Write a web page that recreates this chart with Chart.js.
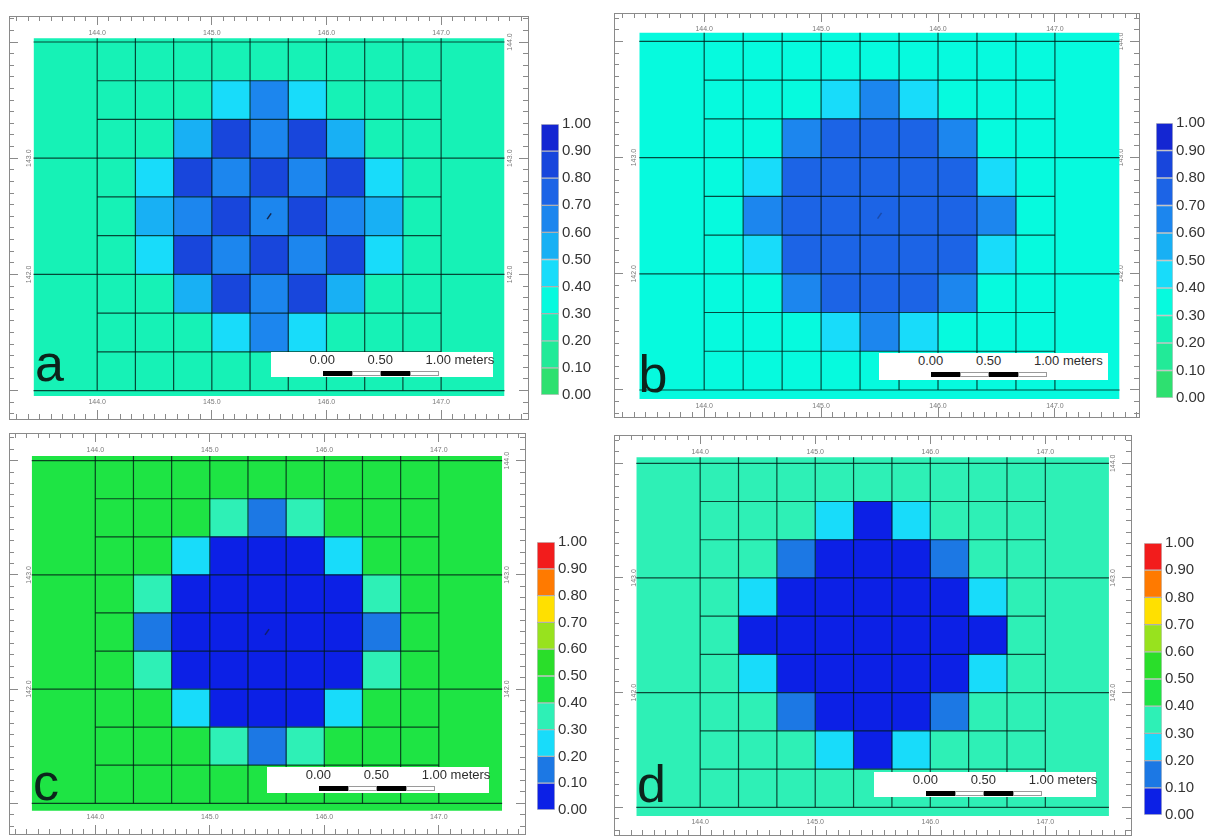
<!DOCTYPE html>
<html>
<head>
<meta charset="utf-8">
<script src="https://cdn.jsdelivr.net/npm/chart.js@4.4.1/dist/chart.umd.min.js"></script>
<style>
  html, body { margin: 0; padding: 0; background: #ffffff; }
  body { position: relative; width: 1210px; height: 838px; overflow: hidden; font-family: "Liberation Sans", Arial, sans-serif; }
  canvas.plot { position: absolute; }
  .scalebox { position: absolute; background: #ffffff; z-index: 3; }
  .scalebox span { position: absolute; top: 1px; font-size: 13px; line-height: 13px; color: #2e2e2e; white-space: nowrap; }
  .seg { position: absolute; top: 19px; height: 5px; width: 29px; box-sizing: border-box; }
  .seg.dark { background: #000000; }
  .seg.light { background: #ffffff; border: 1px solid #9a9a9a; }
  .letter { position: absolute; font-size: 52px; line-height: 52px; color: #0c241c; z-index: 3; }
</style>
</head>
<body>
<script>
Chart.defaults.font.family = "'Liberation Sans', Arial, sans-serif";

// ---- legend classes -------------------------------------------------------
const classEdges  = [0.0, 0.1, 0.2, 0.3, 0.4, 0.5, 0.6, 0.7, 0.8, 0.9, 1.0];
const classLabels = ['0.00', '0.10', '0.20', '0.30', '0.40', '0.50', '0.60', '0.70', '0.80', '0.90', '1.00'];

// colour per class, lowest class first
const rampCool = ['#2ee070', '#22ea98', '#16f2b6', '#06fade', '#18dcfa',
                  '#18b0f4', '#1c86ee', '#1c64e6', '#1846dc', '#1426d2'];
const rampSpectral = ['#0c20e6', '#1c78e4', '#18dcfa', '#2ef0b6', '#1ee444',
                      '#2ade2a', '#98e21e', '#ffe000', '#ff7a00', '#f21c1c'];

// ---- grid geometry (map units, metres) --------------------------------------
const colEdges = [144.0, 144.3333, 144.6667, 145.0, 145.3333, 145.6667, 146.0, 146.3333, 146.6667, 147.0];
const rowEdges = [144.0, 143.6667, 143.3333, 143.0, 142.6667, 142.3333, 142.0, 141.6667, 141.3333, 141.0];
const eastingLabels      = [144.0, 145.0, 146.0, 147.0];
const northingMajor      = [141.0, 142.0, 143.0, 144.0];
const northingLabelsWest = [142.0, 143.0];
const northingLabelsEast = [142.0, 143.0, 144.0];
const wellhead = [{ x: 145.5, y: 142.5 }];

// ---- cell values, north row first ---------------------------------------------
const fillA = 0.25;
const gridA = [
  [0.25, 0.25, 0.25, 0.25, 0.25, 0.25, 0.25, 0.25, 0.25],
  [0.25, 0.25, 0.25, 0.45, 0.65, 0.45, 0.25, 0.25, 0.25],
  [0.25, 0.25, 0.55, 0.85, 0.65, 0.85, 0.55, 0.25, 0.25],
  [0.25, 0.45, 0.85, 0.65, 0.85, 0.65, 0.85, 0.45, 0.25],
  [0.25, 0.55, 0.65, 0.85, 0.65, 0.85, 0.65, 0.55, 0.25],
  [0.25, 0.45, 0.85, 0.65, 0.85, 0.65, 0.85, 0.45, 0.25],
  [0.25, 0.25, 0.55, 0.85, 0.65, 0.85, 0.55, 0.25, 0.25],
  [0.25, 0.25, 0.25, 0.45, 0.65, 0.45, 0.25, 0.25, 0.25],
  [0.25, 0.25, 0.25, 0.25, 0.25, 0.25, 0.25, 0.25, 0.25]
];
const fillB = 0.35;
const gridB = [
  [0.35, 0.35, 0.35, 0.35, 0.35, 0.35, 0.35, 0.35, 0.35],
  [0.35, 0.35, 0.35, 0.45, 0.65, 0.45, 0.35, 0.35, 0.35],
  [0.35, 0.35, 0.65, 0.75, 0.75, 0.75, 0.65, 0.35, 0.35],
  [0.35, 0.45, 0.75, 0.75, 0.75, 0.75, 0.75, 0.45, 0.35],
  [0.35, 0.65, 0.75, 0.75, 0.75, 0.75, 0.75, 0.65, 0.35],
  [0.35, 0.45, 0.75, 0.75, 0.75, 0.75, 0.75, 0.45, 0.35],
  [0.35, 0.35, 0.65, 0.75, 0.75, 0.75, 0.65, 0.35, 0.35],
  [0.35, 0.35, 0.35, 0.45, 0.65, 0.45, 0.35, 0.35, 0.35],
  [0.35, 0.35, 0.35, 0.35, 0.35, 0.35, 0.35, 0.35, 0.35]
];
const fillC = 0.45;
const gridC = [
  [0.45, 0.45, 0.45, 0.45, 0.45, 0.45, 0.45, 0.45, 0.45],
  [0.45, 0.45, 0.45, 0.35, 0.15, 0.35, 0.45, 0.45, 0.45],
  [0.45, 0.45, 0.25, 0.05, 0.05, 0.05, 0.25, 0.45, 0.45],
  [0.45, 0.35, 0.05, 0.05, 0.05, 0.05, 0.05, 0.35, 0.45],
  [0.45, 0.15, 0.05, 0.05, 0.05, 0.05, 0.05, 0.15, 0.45],
  [0.45, 0.35, 0.05, 0.05, 0.05, 0.05, 0.05, 0.35, 0.45],
  [0.45, 0.45, 0.25, 0.05, 0.05, 0.05, 0.25, 0.45, 0.45],
  [0.45, 0.45, 0.45, 0.35, 0.15, 0.35, 0.45, 0.45, 0.45],
  [0.45, 0.45, 0.45, 0.45, 0.45, 0.45, 0.45, 0.45, 0.45]
];
const fillD = 0.35;
const gridD = [
  [0.35, 0.35, 0.35, 0.35, 0.35, 0.35, 0.35, 0.35, 0.35],
  [0.35, 0.35, 0.35, 0.25, 0.05, 0.25, 0.35, 0.35, 0.35],
  [0.35, 0.35, 0.15, 0.05, 0.05, 0.05, 0.15, 0.35, 0.35],
  [0.35, 0.25, 0.05, 0.05, 0.05, 0.05, 0.05, 0.25, 0.35],
  [0.35, 0.05, 0.05, 0.05, 0.05, 0.05, 0.05, 0.05, 0.35],
  [0.35, 0.25, 0.05, 0.05, 0.05, 0.05, 0.05, 0.25, 0.35],
  [0.35, 0.35, 0.15, 0.05, 0.05, 0.05, 0.15, 0.35, 0.35],
  [0.35, 0.35, 0.35, 0.25, 0.05, 0.25, 0.35, 0.35, 0.35],
  [0.35, 0.35, 0.35, 0.35, 0.35, 0.35, 0.35, 0.35, 0.35]
];

// ---- page layout for the four maps ------------------------------------------------
const panels = [
  { letter: 'a', grid: gridA, fillValue: fillA, ramp: rampCool, markColour: 'rgba(20,30,60,0.9)',
    frame: { x: 8.5, y: 16, w: 519.1, h: 403 }, xr: [143.2308, 147.7578], yr: [140.7556, 144.2238],
    area: { x: [143.445, 147.553], y: [140.954, 144.032] }, labelPad: { top: 13, bottom: 13 },
    bar: { x: 541, y: 124, w: 17.6, h: 271 }, scale: { x: 270.6, y: 352, w: 222.4, h: 25 }, tag: { x: 35, y: 337 } },
  { letter: 'b', grid: gridB, fillValue: fillB, ramp: rampCool, markColour: 'rgba(20,30,60,0.35)',
    frame: { x: 613.5, y: 13.3, w: 524.5, h: 403.7 }, xr: [143.2286, 147.7192], yr: [140.7674, 144.2446],
    area: { x: [143.445, 147.553], y: [140.922, 144.075] }, labelPad: { top: 12, bottom: 7 },
    bar: { x: 1156, y: 123, w: 17, h: 275 }, scale: { x: 879, y: 353, w: 228.5, h: 27 }, tag: { x: 638.5, y: 348 } },
  { letter: 'c', grid: gridC, fillValue: fillC, ramp: rampSpectral, markColour: 'rgba(20,30,60,0.7)',
    frame: { x: 8.5, y: 433, w: 515.5, h: 401 }, xr: [143.2465, 147.7526], yr: [140.731, 144.2426],
    area: { x: [143.445, 147.553], y: [140.935, 144.041] }, labelPad: { top: 13, bottom: 12.5 },
    bar: { x: 537, y: 541.7, w: 17.7, h: 268.3 }, scale: { x: 266.7, y: 766.7, w: 222.3, h: 26.6 }, tag: { x: 33, y: 756 } },
  { letter: 'd', grid: gridD, fillValue: fillD, ramp: rampSpectral, markColour: 'rgba(0,0,0,0)',
    frame: { x: 613.5, y: 435, w: 517.2, h: 400 }, xr: [143.2511, 147.7446], yr: [140.7585, 144.2468],
    area: { x: [143.445, 147.553], y: [140.924, 144.052] }, labelPad: { top: 13, bottom: 8.5 },
    bar: { x: 1144, y: 542.7, w: 17.6, h: 271.6 }, scale: { x: 873.7, y: 771.7, w: 222.3, h: 25 }, tag: { x: 637, y: 758 } }
];

const frameColour = '#8a8a8a';
const labelColour = '#7a7a7a';
const lineColour  = 'rgba(0,25,20,0.78)';

function colourOf(v, ramp) {
  return ramp[Math.max(0, Math.min(ramp.length - 1, Math.floor(v * 10 + 1e-9)))];
}
function isIn(list, v) { return list.some(m => Math.abs(m - v) < 1e-6); }
function tenthsBetween(lo, hi) {
  const out = [];
  for (let k = Math.ceil(lo * 10 - 1e-6); k <= Math.floor(hi * 10 + 1e-6); k++) out.push(k / 10);
  return out;
}
function setTicks(values) { return s => { s.ticks = values.map(v => ({ value: v })); }; }

// frame side carrying the 0.1 m tick marks and the coordinate labels (drawn inside the frame)
function frameSide(position, range, minor, labelled, labelPadding) {
  const horizontal = position === 'top' || position === 'bottom';
  return {
    type: 'linear', position, min: range[0], max: range[1], offset: false,
    afterBuildTicks: setTicks(minor),
    ticks: Object.assign({
      autoSkip: false, mirror: true, padding: labelPadding, font: { size: 7 }, color: labelColour,
      callback: v => isIn(labelled, v) ? v.toFixed(1) : ''
    }, horizontal ? { minRotation: 0, maxRotation: 0 }
                  : { minRotation: 90, maxRotation: 90, crossAlign: 'center' }),
    grid: { offset: false, drawOnChartArea: false, drawTicks: true, tickLength: -5, tickColor: frameColour, tickWidth: 1 },
    border: { display: true, color: frameColour, width: 1 }
  };
}
// longer marks at every whole metre, sitting on a frame side
function majorMarks(position, range, values, length) {
  return {
    type: 'linear', position, min: range[0], max: range[1], offset: false,
    afterBuildTicks: setTicks(values),
    ticks: { display: false },
    grid: { offset: false, drawOnChartArea: false, drawTicks: true, tickLength: length, tickColor: frameColour, tickWidth: 1 },
    border: { display: false }
  };
}

function mapConfig(p) {
  const rowMid = rowEdges.slice(0, -1).map((y, r) => (y + rowEdges[r + 1]) / 2);
  const last = colEdges.length - 1;
  const datasets = [];

  // coloured field behind the cells
  datasets.push({
    type: 'line', order: 5, xAxisID: 'x', yAxisID: 'y',
    data: [{ x: p.area.x[0], y: p.area.y[1] }, { x: p.area.x[1], y: p.area.y[1] }],
    fill: { value: p.area.y[0] }, backgroundColor: colourOf(p.fillValue, p.ramp),
    borderWidth: 0, pointRadius: 0
  });

  // one column of cells per dataset
  colEdges.slice(0, -1).forEach((x0, c) => {
    datasets.push({
      type: 'bar', indexAxis: 'y', order: 3, xAxisID: 'x', yAxisID: 'yc',
      data: rowMid.map(y => ({ y, x: [x0, colEdges[c + 1]] })),
      backgroundColor: p.grid.map(row => colourOf(row[c], p.ramp)),
      borderWidth: 0, grouped: false, barPercentage: 1, categoryPercentage: 1
    });
  });

  // cell outlines and whole-metre lines
  const vPts = [];
  colEdges.forEach(x => vPts.push({ x, y: rowEdges[rowEdges.length - 1] }, { x, y: p.area.y[1] }, { x, y: null }));
  const hPts = [];
  rowEdges.forEach(y => {
    const a = isIn(northingMajor, y) ? p.area.x[0] : colEdges[0];
    const b = isIn(northingMajor, y) ? p.area.x[1] : colEdges[last];
    hPts.push({ x: a, y }, { x: b, y }, { x: b, y: null });
  });
  [vPts, hPts].forEach(pts => datasets.push({
    type: 'line', order: 1, xAxisID: 'x', yAxisID: 'y', data: pts,
    borderColor: lineColour, borderWidth: 1.2, pointRadius: 0, fill: false, spanGaps: false
  }));

  // well mark at the centre cell
  datasets.push({
    type: 'line', order: 0, xAxisID: 'x', yAxisID: 'y', showLine: false, data: wellhead,
    pointStyle: 'line', pointRadius: 3.5, pointRotation: -55,
    pointBorderColor: p.markColour, pointBorderWidth: 1.5, pointBackgroundColor: p.markColour
  });

  const xMinor = tenthsBetween(p.xr[0], p.xr[1]);
  const yMinor = tenthsBetween(p.yr[0], p.yr[1]);

  return {
    type: 'bar',
    data: { datasets },
    options: {
      responsive: false, animation: false, devicePixelRatio: 1, events: [],
      layout: { padding: 30 },
      plugins: { legend: { display: false }, tooltip: { enabled: false } },
      scales: {
        x:   frameSide('top', p.xr, xMinor, eastingLabels, p.labelPad.top),
        xb:  frameSide('bottom', p.xr, xMinor, eastingLabels, p.labelPad.bottom),
        y:   frameSide('left', p.yr, yMinor, northingLabelsWest, 11),
        yr:  frameSide('right', p.yr, yMinor, northingLabelsEast, -9.5),
        yc:  { type: 'linear', display: false, min: p.yr[0], max: p.yr[1], offset: false, afterBuildTicks: setTicks(rowMid) },
        xm:  majorMarks({ y: p.yr[1] }, p.xr, eastingLabels, 9),
        xbm: majorMarks({ y: p.yr[0] }, p.xr, eastingLabels, -9),
        ym:  majorMarks({ x: p.xr[0] }, p.yr, northingMajor, -9),
        yrm: majorMarks({ x: p.xr[1] }, p.yr, northingMajor, 9)
      }
    }
  };
}

function legendConfig(p) {
  return {
    type: 'bar',
    data: {
      labels: [''],
      datasets: p.ramp.map((c, i) => ({
        data: [[classEdges[i], classEdges[i + 1]]],
        backgroundColor: c, borderColor: 'rgba(0,0,0,0.22)', borderWidth: 1, borderSkipped: false,
        grouped: false, barPercentage: 1, categoryPercentage: 1
      }))
    },
    options: {
      responsive: false, animation: false, devicePixelRatio: 1, events: [],
      layout: { padding: { top: 12, bottom: 12, left: 2, right: 4 } },
      plugins: { legend: { display: false }, tooltip: { enabled: false } },
      scales: {
        x: { display: false },
        y: {
          position: 'right', min: 0, max: 1,
          afterBuildTicks: setTicks(classEdges),
          ticks: { autoSkip: false, padding: 3, font: { size: 15 }, color: '#333333', callback: (v, i) => classLabels[i] },
          grid: { display: false, drawTicks: false },
          border: { display: false },
          afterFit: s => { s.width = 44; }
        }
      }
    }
  };
}

// build a chart so that its plotting area lands on the given rectangle of the page
function placeChart(build, area) {
  const canvas = document.createElement('canvas');
  canvas.className = 'plot';
  document.body.appendChild(canvas);
  let w = Math.round(area.w + 120), h = Math.round(area.h + 120), chart = null;
  for (let pass = 0; pass < 4; pass++) {
    if (chart) chart.destroy();
    canvas.width = w; canvas.height = h;
    canvas.style.width = w + 'px'; canvas.style.height = h + 'px';
    chart = new Chart(canvas, build());
    const ca = chart.chartArea;
    const dw = area.w - (ca.right - ca.left), dh = area.h - (ca.bottom - ca.top);
    if (Math.abs(dw) < 0.5 && Math.abs(dh) < 0.5) break;
    w = Math.round(w + dw); h = Math.round(h + dh);
  }
  canvas.style.left = (area.x - chart.chartArea.left) + 'px';
  canvas.style.top = (area.y - chart.chartArea.top) + 'px';
  return chart;
}

function addScaleBar(s) {
  const box = document.createElement('div');
  box.className = 'scalebox';
  Object.assign(box.style, { left: s.x + 'px', top: s.y + 'px', width: s.w + 'px', height: s.h + 'px' });
  [['0.00', 39], ['0.50', 97], ['1.00 meters', 155]].forEach(([t, x]) => {
    const sp = document.createElement('span');
    sp.textContent = t; sp.style.left = x + 'px';
    box.appendChild(sp);
  });
  ['dark', 'light', 'dark', 'light'].forEach((k, i) => {
    const seg = document.createElement('div');
    seg.className = 'seg ' + k; seg.style.left = (52 + i * 29) + 'px';
    box.appendChild(seg);
  });
  document.body.appendChild(box);
}

panels.forEach(p => {
  placeChart(() => mapConfig(p), p.frame);
  placeChart(() => legendConfig(p), p.bar);
  addScaleBar(p.scale);
  const t = document.createElement('div');
  t.className = 'letter'; t.textContent = p.letter;
  t.style.left = p.tag.x + 'px'; t.style.top = p.tag.y + 'px';
  document.body.appendChild(t);
});
</script>
</body>
</html>
